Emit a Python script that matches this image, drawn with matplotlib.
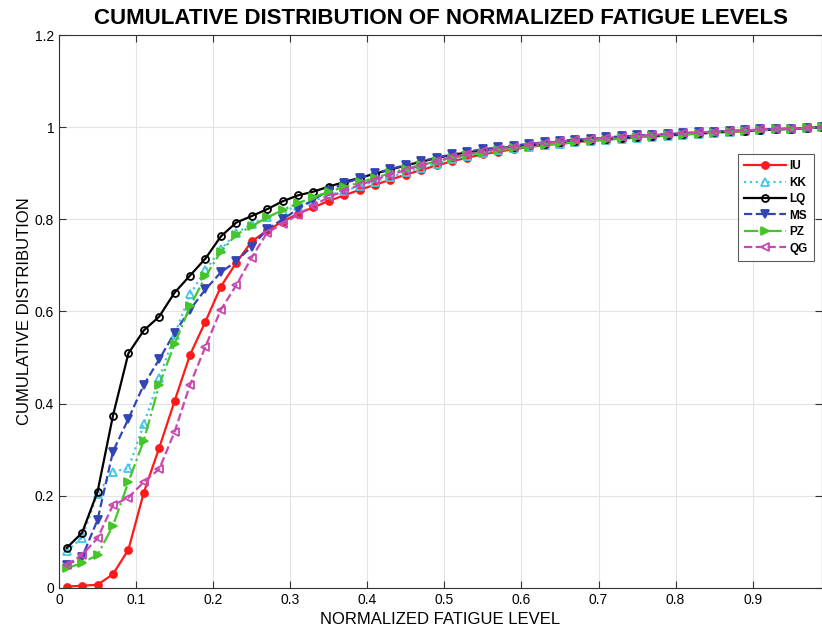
import numpy as np
import matplotlib
matplotlib.use('Agg')
import matplotlib.pyplot as plt

# ── Data ─────────────────────────────────────────────────────
fatigue_level = [0.01, 0.03, 0.05, 0.07, 0.09, 0.11, 0.13, 0.15, 0.17, 0.19,
                 0.21, 0.23, 0.25, 0.27, 0.29, 0.31, 0.33, 0.35, 0.37, 0.39,
                 0.41, 0.43, 0.45, 0.47, 0.49, 0.51, 0.53, 0.55, 0.57, 0.59,
                 0.61, 0.63, 0.65, 0.67, 0.69, 0.71, 0.73, 0.75, 0.77, 0.79,
                 0.81, 0.83, 0.85, 0.87, 0.89, 0.91, 0.93, 0.95, 0.97, 0.99]

cdf_iu = [0.003, 0.005, 0.007, 0.030, 0.083, 0.207, 0.304, 0.406, 0.506, 0.578,
          0.654, 0.706, 0.752, 0.776, 0.795, 0.812, 0.826, 0.840, 0.852, 0.864,
          0.875, 0.886, 0.897, 0.907, 0.917, 0.926, 0.934, 0.941, 0.947, 0.952,
          0.957, 0.961, 0.964, 0.967, 0.970, 0.973, 0.975, 0.978, 0.980, 0.982,
          0.984, 0.986, 0.988, 0.990, 0.991, 0.993, 0.995, 0.996, 0.998, 1.000]

cdf_kk = [0.080, 0.109, 0.205, 0.252, 0.260, 0.355, 0.455, 0.550, 0.637, 0.690,
          0.735, 0.770, 0.790, 0.805, 0.818, 0.828, 0.840, 0.852, 0.862, 0.872,
          0.882, 0.892, 0.902, 0.912, 0.921, 0.930, 0.938, 0.945, 0.950, 0.955,
          0.958, 0.961, 0.964, 0.967, 0.970, 0.972, 0.974, 0.977, 0.979, 0.981,
          0.983, 0.985, 0.987, 0.989, 0.991, 0.993, 0.995, 0.996, 0.998, 1.000]

cdf_lq = [0.087, 0.120, 0.209, 0.374, 0.509, 0.559, 0.589, 0.641, 0.678, 0.715,
          0.763, 0.793, 0.807, 0.822, 0.839, 0.852, 0.860, 0.871, 0.881, 0.890,
          0.899, 0.908, 0.917, 0.925, 0.933, 0.940, 0.945, 0.950, 0.954, 0.958,
          0.961, 0.964, 0.967, 0.970, 0.972, 0.975, 0.977, 0.979, 0.981, 0.983,
          0.985, 0.987, 0.989, 0.991, 0.992, 0.994, 0.995, 0.997, 0.998, 1.000]

cdf_ms = [0.050, 0.067, 0.148, 0.296, 0.367, 0.441, 0.496, 0.554, 0.604, 0.648,
          0.685, 0.709, 0.741, 0.778, 0.800, 0.822, 0.843, 0.862, 0.878, 0.889,
          0.900, 0.909, 0.918, 0.926, 0.934, 0.941, 0.947, 0.952, 0.956, 0.960,
          0.964, 0.967, 0.970, 0.973, 0.975, 0.978, 0.980, 0.982, 0.984, 0.985,
          0.987, 0.989, 0.990, 0.992, 0.993, 0.995, 0.996, 0.997, 0.998, 1.000]

cdf_pz = [0.043, 0.054, 0.072, 0.135, 0.230, 0.320, 0.441, 0.530, 0.611, 0.676,
          0.730, 0.767, 0.785, 0.804, 0.820, 0.835, 0.848, 0.860, 0.870, 0.880,
          0.890, 0.900, 0.910, 0.918, 0.926, 0.933, 0.940, 0.945, 0.950, 0.954,
          0.958, 0.962, 0.965, 0.968, 0.971, 0.973, 0.976, 0.978, 0.980, 0.982,
          0.984, 0.986, 0.988, 0.990, 0.991, 0.993, 0.995, 0.996, 0.998, 1.000]

cdf_qg = [0.050, 0.072, 0.108, 0.180, 0.196, 0.230, 0.258, 0.339, 0.441, 0.524,
          0.604, 0.657, 0.717, 0.771, 0.790, 0.810, 0.830, 0.848, 0.862, 0.874,
          0.886, 0.897, 0.907, 0.917, 0.926, 0.935, 0.942, 0.948, 0.953, 0.958,
          0.962, 0.966, 0.969, 0.972, 0.975, 0.977, 0.979, 0.981, 0.983, 0.985,
          0.987, 0.989, 0.990, 0.992, 0.993, 0.995, 0.996, 0.997, 0.998, 1.000]

x_ticks = [0, 0.1, 0.2, 0.3, 0.4, 0.5, 0.6, 0.7, 0.8, 0.9]
x_tick_labels = ['0', '0.1', '0.2', '0.3', '0.4', '0.5', '0.6', '0.7', '0.8', '0.9']
y_ticks = [0, 0.2, 0.4, 0.6, 0.8, 1.0, 1.2]
y_tick_labels = ['0', '0.2', '0.4', '0.6', '0.8', '1', '1.2']

# ── Styles ───────────────────────────────────────────────────
series = [
    ('IU', cdf_iu, dict(color='#ff1a1a', ls='-',  marker='o', mfc='#ff1a1a', ms=5)),
    ('KK', cdf_kk, dict(color='#45c6e6', ls=':',  marker='^', mfc='none',    ms=6)),
    ('LQ', cdf_lq, dict(color='#000000', ls='-',  marker='o', mfc='none',    ms=5)),
    ('MS', cdf_ms, dict(color='#3345b5', ls='--', marker='v', mfc='#3345b5', ms=6)),
    ('PZ', cdf_pz, dict(color='#44c62a', ls='-.', marker='>', mfc='#44c62a', ms=6)),
    ('QG', cdf_qg, dict(color='#c748b0', ls='--', marker='<', mfc='none',    ms=6)),
]

plt.rcParams['font.family'] = ['Liberation Sans', 'DejaVu Sans']

fig = plt.figure(figsize=(8.22, 6.33), dpi=100)
ax = fig.add_axes([0.0718, 0.0711, 0.9282, 0.8736])

for name, vals, st in series:
    ax.plot(fatigue_level, vals, label=name, lw=1.6, mew=1.3, **st)

ax.set_xlim(0, 0.99)
ax.set_ylim(0, 1.2)
ax.set_xticks(x_ticks)
ax.set_xticklabels(x_tick_labels)
ax.set_yticks(y_ticks)
ax.set_yticklabels(y_tick_labels)
ax.tick_params(direction='in', top=True, right=True, labelsize=10, length=5,
               color='#333333')
ax.grid(True, color='#e3e3e3', lw=0.8)
for s in ax.spines.values():
    s.set_color('#333333')

ax.set_title('CUMULATIVE DISTRIBUTION OF NORMALIZED FATIGUE LEVELS',
             fontsize=16, fontweight='bold', pad=8)
ax.set_xlabel('NORMALIZED FATIGUE LEVEL', fontsize=12, labelpad=4)
ax.set_ylabel('CUMULATIVE DISTRIBUTION', fontsize=12, labelpad=2)

leg = ax.legend(loc='upper right', bbox_to_anchor=(0.997, 0.795),
                prop={'weight': 'bold', 'size': 8.5},
                fancybox=False, edgecolor='#333333', handlelength=3.6,
                borderpad=0.5, labelspacing=0.38, handletextpad=0.3)
leg.get_frame().set_linewidth(0.8)

fig.savefig('out.png', dpi=100)
